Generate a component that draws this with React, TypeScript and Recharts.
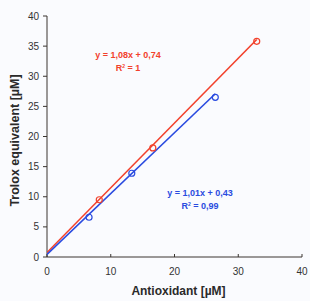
import { ComposedChart, Scatter, XAxis, YAxis, Label } from "recharts";

// measured standards (antioxidant µM -> trolox equivalent µM)
const redPoints = [
  { x: 8.2, y: 9.5 },
  { x: 16.6, y: 18.1 },
  { x: 32.9, y: 35.8 },
];
const bluePoints = [
  { x: 6.6, y: 6.6 },
  { x: 13.3, y: 13.9 },
  { x: 26.4, y: 26.5 },
];

// regression line ends
const redFit = [
  { x: 0, y: 0.74 },
  { x: 32.9, y: 36.1 },
];
const blueFit = [
  { x: 0, y: 0.43 },
  { x: 26.4, y: 27.1 },
];

const xTicks = [0, 10, 20, 30, 40];
const yTicks = [0, 5, 10, 15, 20, 25, 30, 35, 40];

const RED = "#f2412c";
const BLUE = "#2a4be0";
const FONT = "'Liberation Sans', Arial, sans-serif";

const Hollow = (color: string) => (props: any) => {
  const { cx, cy } = props;
  if (cx == null || cy == null) return <g />;
  return <circle cx={cx} cy={cy} r={3} fill="none" stroke={color} strokeWidth={1.2} />;
};

const NoDot = () => <g />;

const App = () => {
  return (
    <div
      style={{
        position: "fixed",
        left: 0,
        top: 0,
        width: 310,
        height: 301,
        background: "#fafbfe",
        fontFamily: FONT,
      }}
    >
      <ComposedChart
        width={310}
        height={301}
        margin={{ top: 16, right: 8, left: 5, bottom: 14 }}
      >
        <XAxis
          type="number"
          dataKey="x"
          domain={[0, 40]}
          ticks={xTicks}
          allowDataOverflow
          height={30}
          stroke="#3a3530"
          tickSize={-3}
          tickMargin={14}
          tick={{ fill: "#333", fontSize: 10, fontFamily: FONT }}
        >
          <Label
            value="Antioxidant [µM]"
            position="insideBottom"
            offset={-8}
            dx={4}
            style={{ fill: "#2a2a2a", fontSize: 12, fontWeight: "bold", fontFamily: FONT }}
          />
        </XAxis>
        <YAxis
          type="number"
          dataKey="y"
          domain={[0, 40]}
          ticks={yTicks}
          allowDataOverflow
          width={42}
          stroke="#3a3530"
          tickSize={4}
          tickMargin={4}
          tick={{ fill: "#333", fontSize: 10, fontFamily: FONT }}
        >
          <Label
            value="Trolox equivalent [µM]"
            angle={-90}
            position="insideLeft"
            offset={10}
            dy={4}
            style={{ fill: "#2a2a2a", fontSize: 12.5, fontWeight: "bold", fontFamily: FONT, textAnchor: "middle" }}
          />
        </YAxis>
        <Scatter data={redFit} line={{ stroke: RED, strokeWidth: 1.6 }} shape={NoDot} isAnimationActive={false} />
        <Scatter data={blueFit} line={{ stroke: BLUE, strokeWidth: 1.6 }} shape={NoDot} isAnimationActive={false} />
        <Scatter data={redPoints} shape={Hollow(RED)} isAnimationActive={false} />
        <Scatter data={bluePoints} shape={Hollow(BLUE)} isAnimationActive={false} />
      </ComposedChart>
      <div style={{ position: "absolute", left: 78, top: 49, width: 100, textAlign: "center", color: RED, fontSize: 9, fontWeight: "bold", lineHeight: "13px" }}>
        <div>y = 1,08x + 0,74</div>
        <div>
          R<sup style={{ fontSize: 5, verticalAlign: "top", lineHeight: "8px" }}>2</sup> = 1
        </div>
      </div>
      <div style={{ position: "absolute", left: 150, top: 187, width: 100, textAlign: "center", color: BLUE, fontSize: 9, fontWeight: "bold", lineHeight: "13px" }}>
        <div>y = 1,01x + 0,43</div>
        <div>
          R<sup style={{ fontSize: 5, verticalAlign: "top", lineHeight: "8px" }}>2</sup> = 0,99
        </div>
      </div>
    </div>
  );
};

export default App;
